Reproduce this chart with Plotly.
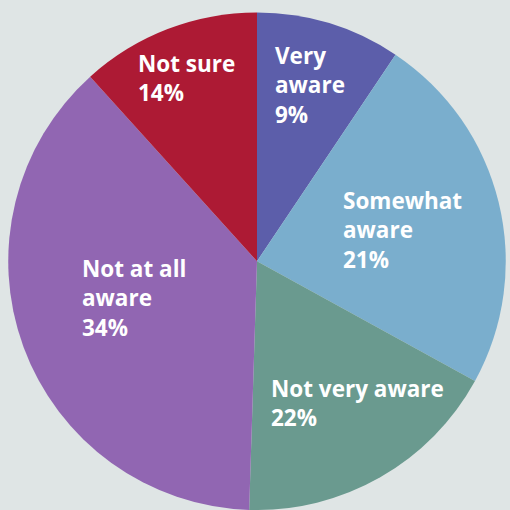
import plotly.graph_objects as go

categories = ["Very aware", "Somewhat aware", "Not very aware", "Not at all aware", "Not sure"]
slice_values = [9.4, 23.6, 17.5, 37.8, 11.7]
label_lines = ["Very<br>aware", "Somewhat<br>aware", "Not very aware", "Not at all<br>aware", "Not sure"]
pct_labels = ["9%", "21%", "22%", "34%", "14%"]
colors = ["#5c5eaa", "#7aaecd", "#6a9a8f", "#9166b2", "#ad1a34"]
bg = "#dfe5e5"

# label anchor points (pixel positions of text block top-left)
label_px = [(273, 38), (341, 183), (269, 371), (80, 251), (136, 46)]

W, H = 510, 510
fig = go.Figure(go.Pie(
    labels=categories,
    values=slice_values,
    sort=False,
    direction="clockwise",
    rotation=0,
    marker=dict(colors=colors, line=dict(width=0)),
    textinfo="none",
    hoverinfo="label+percent",
    showlegend=False,
    domain=dict(x=[8.25 / W, 505.75 / W], y=[0, 1 - 12.5 / H]),
))

for (px, py), t, p in zip(label_px, label_lines, pct_labels):
    fig.add_annotation(
        x=px / W, y=1 - py / H, xref="paper", yref="paper",
        xanchor="left", yanchor="top", align="left",
        text=f"<b>{t}<br>{p}</b>", showarrow=False,
        font=dict(family="Open Sans", size=22.5, color="white"),
    )

fig.update_layout(
    width=W, height=H,
    margin=dict(l=0, r=0, t=0, b=0),
    paper_bgcolor=bg, plot_bgcolor=bg,
)
fig.write_html(
    "out.html",
    config={"displayModeBar": False},
    post_script="document.body.style.margin='0';document.body.style.background='" + bg + "';",
)
